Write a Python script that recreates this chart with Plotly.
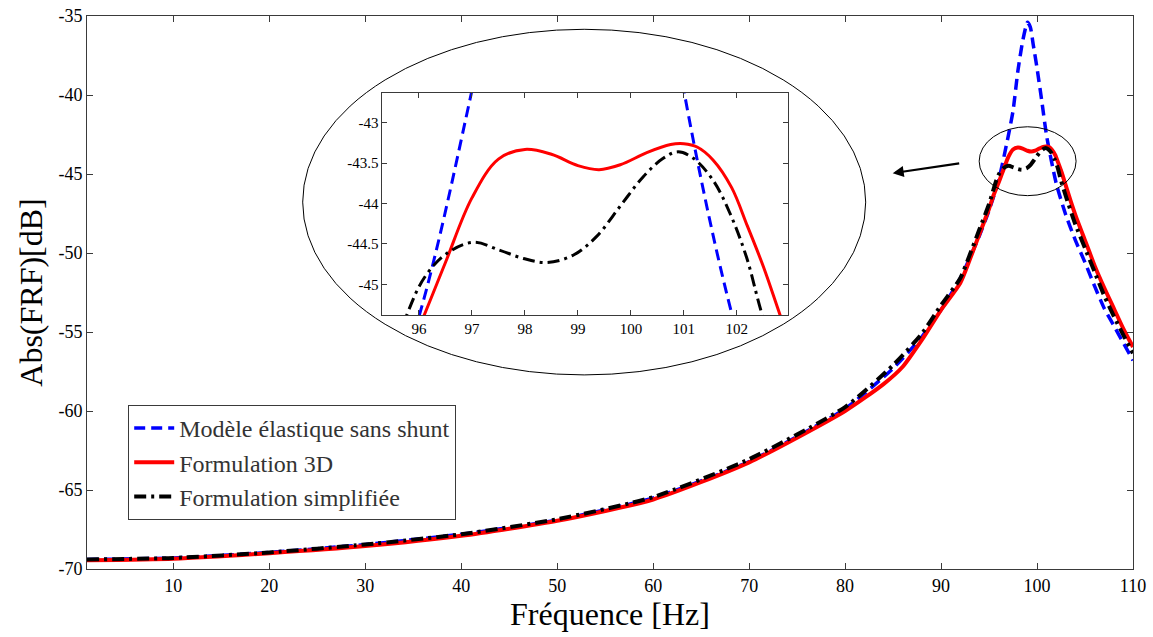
import plotly.graph_objects as go

# ---------------- data ----------------
freq_blue = [1, 10, 20, 30, 40, 50, 60, 70, 80, 85, 88, 90, 92, 93, 94, 95, 96, 97, 97.5, 98, 98.5,
             99, 99.3, 99.6, 100, 100.5, 101, 102, 103, 104, 105, 106, 107, 108, 109, 110]
db_blue = [-69.4, -69.3, -68.95, -68.45, -67.8, -66.9, -65.5, -63.2, -59.85, -57.3, -55.3, -53.6, -51.6,
           -50.3, -48.9, -47.3, -45.4, -42.6, -41.0, -38.5, -36.6,
           -35.4, -35.7, -36.8, -38.3, -40.4, -42.6, -45.6, -47.6, -49.2, -50.6, -52.1, -53.5, -54.6, -55.7, -56.8]

freq_red = [1, 10, 20, 30, 40, 50, 60, 70, 80, 84, 86, 88, 90, 92, 93, 94, 95, 95.5, 96.1, 96.5, 97,
            97.5, 98, 98.5, 99, 99.4, 99.8, 100.3, 100.75, 101, 101.25, 101.55, 101.9, 102.2, 102.5,
            102.8, 103.5, 104, 105, 105.5, 106, 107, 108, 109, 110]
db_red = [-69.45, -69.35, -69.0, -68.55, -67.9, -66.95, -65.6, -63.25, -60.0, -58.3, -57.2, -55.5, -53.6,
          -51.9, -50.4, -48.8, -47.2, -46.3, -45.38, -44.73, -43.93,
          -43.45, -43.33, -43.39, -43.53, -43.58, -43.52, -43.37, -43.27, -43.26, -43.30, -43.46, -43.8,
          -44.28, -44.78, -45.35, -46.7, -47.6, -49.2, -50.0, -50.8, -52.2, -53.5, -54.8, -55.95]

freq_black = [1, 10, 20, 30, 40, 50, 60, 70, 80, 85, 88, 90, 92, 93, 94, 95, 95.77, 96.11, 96.52, 97.03,
              97.53, 97.97, 98.41, 98.91, 99.35, 99.79, 100.23, 100.61, 100.89, 101.18, 101.55, 101.87,
              102.18, 102.48, 103, 104, 105, 106, 107, 108, 109, 110]
db_black = [-69.4, -69.3, -68.95, -68.45, -67.8, -66.85, -65.45, -63.05, -59.75, -57.1, -55.1, -53.3,
            -51.6, -50.1, -48.5, -46.9, -45.38, -44.91, -44.62, -44.48,
            -44.58, -44.68, -44.73, -44.64, -44.41, -44.04, -43.67, -43.44, -43.36, -43.44, -43.71, -44.12,
            -44.66, -45.38, -46.4, -48.2, -49.7, -51.2, -52.7, -54.0, -55.2, -56.35]

series_names = ["Modèle élastique sans shunt", "Formulation 3D", "Formulation simplifiée"]

x_ticks_main = [10, 20, 30, 40, 50, 60, 70, 80, 90, 100, 110]
x_tick_labels_main = ["10", "20", "30", "40", "50", "60", "70", "80", "90", "100", "110"]
y_ticks_main = [-70, -65, -60, -55, -50, -45, -40, -35]
y_tick_labels_main = ["-70", "-65", "-60", "-55", "-50", "-45", "-40", "-35"]
x_ticks_inset = [96, 97, 98, 99, 100, 101, 102]
x_tick_labels_inset = ["96", "97", "98", "99", "100", "101", "102"]
y_ticks_inset = [-45, -44.5, -44, -43.5, -43]
y_tick_labels_inset = ["-45", "-44.5", "-44", "-43.5", "-43"]

# ---------------- figure ----------------
W, H = 1153, 637
PL, PR, PT, PB = 87.3, 1133.3, 15.7, 569.3  # plot area in page px
ML, MR, MT, MB = PL, W - PR, PT, H - PB
PW, PH = PR - PL, PB - PT


def px2paper_x(px):
    return (px - PL) / PW


def px2paper_y(py):
    return (PB - py) / PH


styles = [
    dict(color="#0000FF", width=3.5, dash="11px,6px"),
    dict(color="#FF0000", width=4, dash="solid"),
    dict(color="#000000", width=4, dash="12px,5px,3px,5px"),
]
data = [(freq_blue, db_blue), (freq_red, db_red), (freq_black, db_black)]

fig = go.Figure()
for (fx, fy), name, st in zip(data, series_names, styles):
    fig.add_trace(go.Scatter(x=fx, y=fy, mode="lines", name=name,
                             line=dict(shape="spline", smoothing=0.6, **st),
                             xaxis="x", yaxis="y"))
for (fx, fy), name, st in zip(data, series_names, styles):
    st2 = dict(st)
    st2["width"] = 3
    fig.add_trace(go.Scatter(x=fx, y=fy, mode="lines", name=name, showlegend=False,
                             line=dict(shape="spline", smoothing=1.0, **st2),
                             xaxis="x2", yaxis="y2"))

serif = "Liberation Serif"
axis_common = dict(showline=True, linecolor="#3a3a3a", linewidth=1, mirror="ticks",
                   ticks="inside", tickcolor="#3a3a3a", showgrid=False, zeroline=False,
                   ticklabeloverflow="allow")

fig.update_layout(
    width=W, height=H,
    margin=dict(l=ML, r=MR, t=MT, b=MB, autoexpand=False),
    paper_bgcolor="white", plot_bgcolor="white",
    font=dict(family=serif, color="#000000", size=18),
    xaxis=dict(range=[1, 110], tickvals=x_ticks_main, ticktext=x_tick_labels_main, ticklen=6,
               tickfont=dict(size=18, family=serif),
               title=dict(text="Fréquence [Hz]", font=dict(size=32, family=serif), standoff=4),
               domain=[0, 1], automargin=False, **axis_common),
    yaxis=dict(range=[-70, -35], tickvals=y_ticks_main, ticktext=y_tick_labels_main, ticklen=6,
               tickfont=dict(size=18, family=serif),
               title=dict(text="Abs(FRF)[dB]", font=dict(size=32, family=serif), standoff=6),
               domain=[0, 1], automargin=False, **axis_common),
    xaxis2=dict(range=[95.31, 102.96], tickvals=x_ticks_inset, ticktext=x_tick_labels_inset, ticklen=5,
                tickfont=dict(size=15, family=serif), anchor="y2",
                domain=[px2paper_x(382.7), px2paper_x(788)], automargin=False, **axis_common),
    yaxis2=dict(range=[-45.38, -42.63], tickvals=y_ticks_inset, ticktext=y_tick_labels_inset,
                ticklen=5, tickfont=dict(size=15, family=serif), anchor="x2",
                domain=[px2paper_y(315), px2paper_y(92.7)], automargin=False, **axis_common),
    legend=dict(x=px2paper_x(128.5), y=px2paper_y(405), xanchor="left", yanchor="top",
                bgcolor="white", bordercolor="#3a3a3a", borderwidth=1,
                font=dict(size=24, family=serif, color="#333333"),
                itemwidth=40, tracegroupgap=0),
    showlegend=True,
)

# big ellipse around the inset
fig.add_shape(type="circle", xref="paper", yref="paper",
              x0=px2paper_x(303), x1=px2paper_x(866), y0=px2paper_y(375), y1=px2paper_y(29),
              line=dict(color="#000000", width=1), layer="above")
# small ellipse marking the zoomed region
fig.add_shape(type="circle", xref="x", yref="y",
              x0=93.97, x1=104.07, y0=-46.37, y1=-42.01,
              line=dict(color="#000000", width=1), layer="above")
# arrow
fig.add_annotation(x=px2paper_x(893), y=px2paper_y(173), xref="paper", yref="paper",
                   ax=68, ay=-10, axref="pixel", ayref="pixel", text="",
                   showarrow=True, arrowhead=2, arrowsize=1, arrowwidth=2.2, arrowcolor="#000000")

# remove the default 8px page margin so the figure fills the window exactly
fig.write_html("out.html",
               config={"displayModeBar": False},
               post_script="document.body.style.margin='0';document.body.style.overflow='hidden';")
